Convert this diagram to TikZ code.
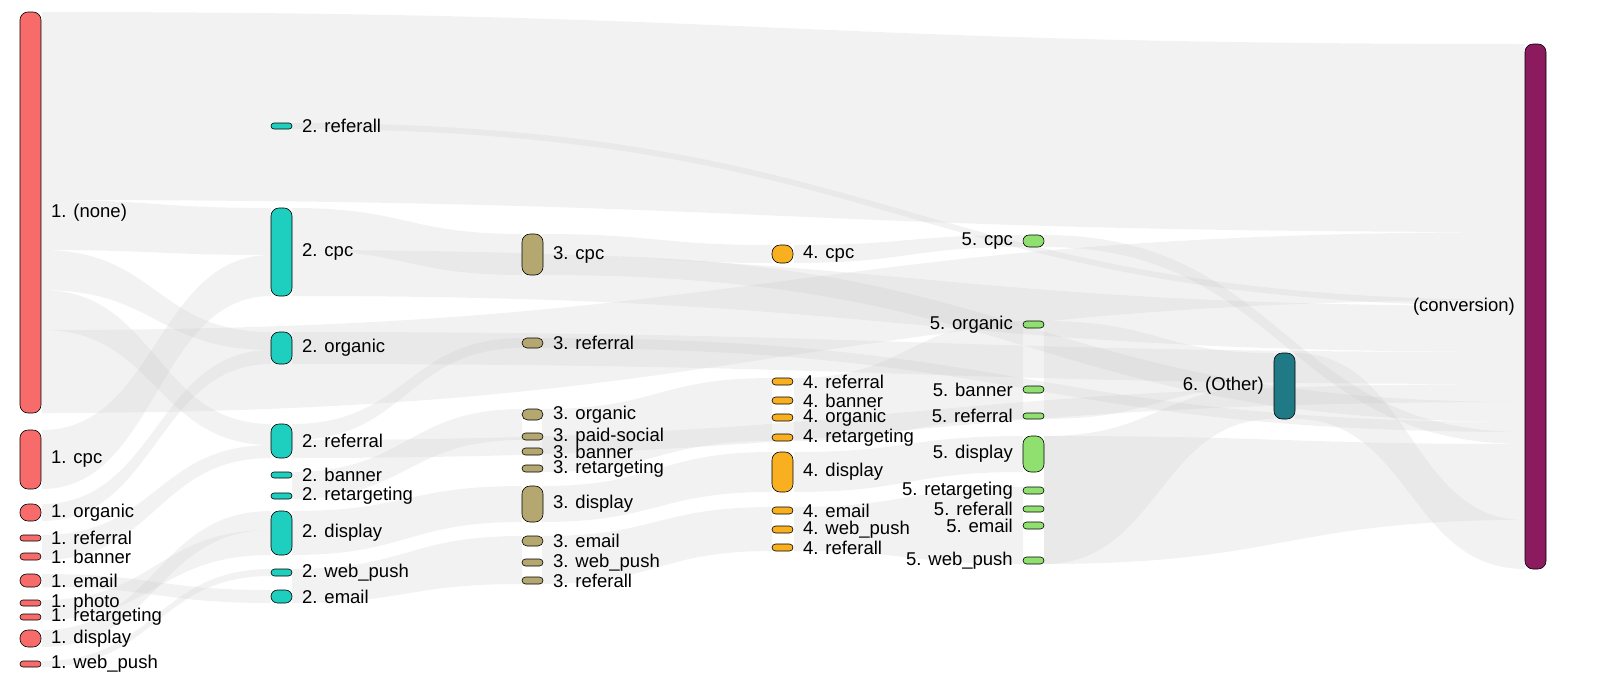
\documentclass[tikz,border=0pt]{standalone}
\usepackage{fontspec}
\setmainfont{Liberation Sans}
\definecolor{cA}{HTML}{F86B6B}
\definecolor{cB}{HTML}{1ECFBF}
\definecolor{cC}{HTML}{B5A770}
\definecolor{cD}{HTML}{F9B020}
\definecolor{cE}{HTML}{90E070}
\definecolor{cF}{HTML}{1F7A86}
\definecolor{cG}{HTML}{8B1A5E}
\tikzset{flowc/.style={fill=gray!45,fill opacity=0.22},
 lab/.style={font=\fontsize{18.5}{20}\selectfont,inner sep=0pt}}
\newcommand\nd[7]{%
 \pgfmathsetmacro\rr{min(8,(#4-#3)/2-0.01)}%
 \draw[line width=0.6pt,fill=#5,rounded corners=\rr pt] (#2,#3) rectangle ++(21,#4-#3);%
 \coordinate (#1) at (#2+10.5,{(#3+#4)/2});%
 \ifx#7r\node[lab,anchor=west] at (#2+31,{(#3+#4)/2}) {#6};\else\node[lab,anchor=east] at (#2-10,{(#3+#4)/2}) {#6};\fi}
\newcommand\fl[6]{\fill[flowc] (#1,#2) .. controls ({(#1+#4)/2},#2) and ({(#1+#4)/2},#5) .. (#4,#5) -- (#4,#6) .. controls ({(#1+#4)/2},#6) and ({(#1+#4)/2},#3) .. (#1,#3) -- cycle;}
\begin{document}
\begin{tikzpicture}[x=1pt,y=-1pt]
\useasboundingbox (0,0) rectangle (1600,699);
% flows
\fl{42}{12}{200}{1525}{44}{232}
\fl{42}{200}{250}{271}{208}{255}
\fl{42}{250}{290}{271}{332}{350}
\fl{42}{290}{330}{271}{424}{445}
\fl{42}{330}{413}{1525}{232}{300}
\fl{42}{430}{489}{271}{255}{296}
\fl{42}{504}{521}{271}{350}{364}
\fl{42}{535}{560}{271}{445}{458}
\fl{42}{574}{587}{271}{590}{603}
\fl{42}{630}{647}{271}{511}{530}
\fl{42}{661}{667}{271}{569}{576}
\fl{42}{600}{620}{271}{530}{555}
\fl{292}{123}{129}{1525}{300}{306}
\fl{292}{208}{250}{522}{234}{275}
\fl{292}{250}{296}{1525}{306}{352}
\fl{292}{332}{364}{1525}{352}{384}
\fl{292}{424}{440}{522}{338}{348}
\fl{292}{440}{458}{1525}{384}{402}
\fl{292}{472}{499}{522}{409}{440}
\fl{292}{511}{555}{522}{486}{522}
\fl{292}{569}{603}{522}{536}{584}
\fl{542}{234}{255}{772}{245}{263}
\fl{542}{255}{275}{1525}{402}{422}
\fl{542}{338}{348}{1525}{422}{432}
\fl{542}{409}{472}{772}{378}{441}
\fl{542}{486}{522}{772}{452}{492}
\fl{542}{536}{584}{772}{507}{551}
\fl{794}{245}{263}{1023}{235}{247}
\fl{794}{378}{441}{1023}{321}{419}
\fl{794}{452}{492}{1023}{436}{472}
\fl{794}{507}{551}{1023}{487}{564}
\fl{1044}{235}{247}{1525}{432}{444}
\fl{1044}{321}{419}{1274}{353}{386}
\fl{1044}{436}{564}{1274}{386}{419}
\fl{1044}{436}{564}{1525}{444}{520}
\fl{1295}{353}{419}{1525}{520}{569}
% nodes column 1
\nd{a1}{20}{12}{413}{cA}{1. (none)}{r}
\nd{a2}{20}{430}{489}{cA}{1. cpc}{r}
\nd{a3}{20}{504}{521}{cA}{1. organic}{r}
\nd{a4}{20}{535}{541}{cA}{1. referral}{r}
\nd{a5}{20}{553}{560}{cA}{1. banner}{r}
\nd{a6}{20}{574}{587}{cA}{1. email}{r}
\nd{a7}{20}{600}{606}{cA}{1. photo}{r}
\nd{a8}{20}{614}{620}{cA}{1. retargeting}{r}
\nd{a9}{20}{630}{647}{cA}{1. display}{r}
\nd{a10}{20}{661}{667}{cA}{1. web\_push}{r}
% column 2
\nd{b1}{271}{123}{129}{cB}{2. referall}{r}
\nd{b2}{271}{208}{296}{cB}{2. cpc}{r}
\nd{b3}{271}{332}{364}{cB}{2. organic}{r}
\nd{b4}{271}{424}{458}{cB}{2. referral}{r}
\nd{b5}{271}{472}{478}{cB}{2. banner}{r}
\nd{b6}{271}{493}{499}{cB}{2. retargeting}{r}
\nd{b7}{271}{511}{555}{cB}{2. display}{r}
\nd{b8}{271}{569}{576}{cB}{2. web\_push}{r}
\nd{b9}{271}{590}{603}{cB}{2. email}{r}
% column 3
\nd{c1}{522}{234}{275}{cC}{3. cpc}{r}
\nd{c2}{522}{338}{348}{cC}{3. referral}{r}
\nd{c3}{522}{409}{420}{cC}{3. organic}{r}
\nd{c4}{522}{433}{440}{cC}{3. paid-social}{r}
\nd{c5}{522}{448}{455}{cC}{3. banner}{r}
\nd{c6}{522}{465}{472}{cC}{3. retargeting}{r}
\nd{c7}{522}{486}{522}{cC}{3. display}{r}
\nd{c8}{522}{536}{546}{cC}{3. email}{r}
\nd{c9}{522}{559}{566}{cC}{3. web\_push}{r}
\nd{c10}{522}{577}{584}{cC}{3. referall}{r}
% column 4
\nd{d1}{772}{245}{263}{cD}{4. cpc}{r}
\nd{d2}{772}{378}{385}{cD}{4. referral}{r}
\nd{d3}{772}{397}{404}{cD}{4. banner}{r}
\nd{d4}{772}{414}{421}{cD}{4. organic}{r}
\nd{d5}{772}{434}{441}{cD}{4. retargeting}{r}
\nd{d6}{772}{452}{492}{cD}{4. display}{r}
\nd{d7}{772}{507}{514}{cD}{4. email}{r}
\nd{d8}{772}{526}{533}{cD}{4. web\_push}{r}
\nd{d9}{772}{544}{551}{cD}{4. referall}{r}
% column 5
\nd{e1}{1023}{235}{247}{cE}{5. cpc}{l}
\nd{e2}{1023}{321}{328}{cE}{5. organic}{l}
\nd{e3}{1023}{386}{393}{cE}{5. banner}{l}
\nd{e4}{1023}{413}{419}{cE}{5. referral}{l}
\nd{e5}{1023}{436}{472}{cE}{5. display}{l}
\nd{e6}{1023}{487}{494}{cE}{5. retargeting}{l}
\nd{e7}{1023}{506}{512}{cE}{5. referall}{l}
\nd{e8}{1023}{522}{529}{cE}{5. email}{l}
\nd{e9}{1023}{557}{564}{cE}{5. web\_push}{l}
\nd{f1}{1274}{353}{419}{cF}{6. (Other)}{l}
\nd{g1}{1525}{44}{569}{cG}{(conversion)}{l}
\end{tikzpicture}
\end{document}
